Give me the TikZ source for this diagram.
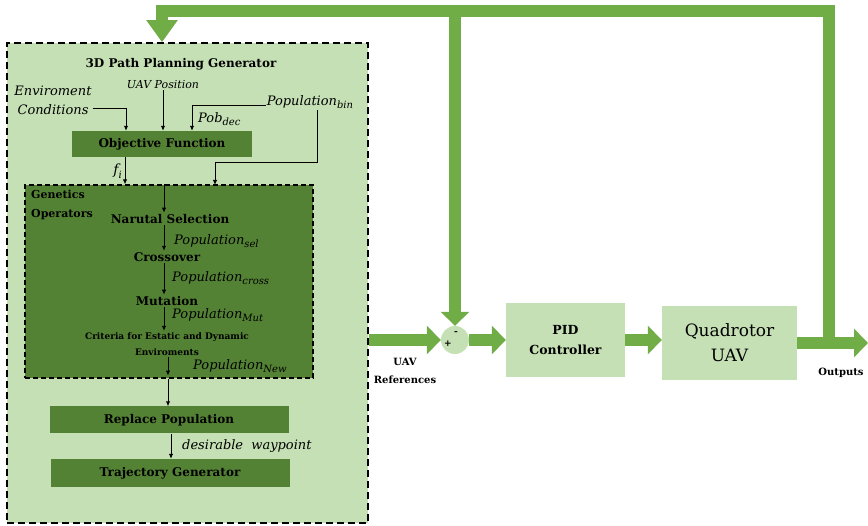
\documentclass[tikz,border=0pt]{standalone}
\usepackage{fontspec}
\setmainfont{DejaVu Serif}
\usepackage{tikz}
\usetikzlibrary{arrows.meta,positioning,calc}
\usepackage{xcolor}
\definecolor{lightgrn}{HTML}{C5E0B4}
\definecolor{darkgrn}{HTML}{548235}
\definecolor{flowgrn}{HTML}{70AD47}
\newcommand{\lsub}[1]{\raisebox{-0.5ex}{\fontsize{10}{10}\selectfont\itshape #1}}

\begin{document}
\begin{tikzpicture}[x=1pt, y=-1pt,
    genbox/.style={draw, dash pattern=on 7pt off 4pt, line width=1.6pt,
                   fill=lightgrn, minimum width=361pt, minimum height=480pt},
    opsbox/.style={draw, dash pattern=on 5pt off 3pt, line width=1.2pt,
                   fill=darkgrn, minimum width=288pt, minimum height=193pt},
    darkbox/.style={fill=darkgrn, inner sep=0pt,
                    font=\bfseries\fontsize{12}{13}\selectfont},
    ctrlbox/.style={fill=lightgrn, inner sep=0pt, align=center},
    oplbl/.style={inner sep=1.5pt, font=\bfseries\fontsize{12}{14}\selectfont},
    varlbl/.style={inner sep=1pt, font=\itshape\fontsize{13}{19}\selectfont},
    arr/.style={-{Latex[length=5pt,width=4.5pt]}, line width=1pt},
    flow/.style={-{Triangle[width=28pt,length=14pt]}, draw=flowgrn,
                 line width=12pt, line join=miter},
    labl/.style={font=\bfseries\fontsize{10}{18}\selectfont, align=center}
  ]
  \useasboundingbox (0,0) rectangle (868,526);

  %% --- Path planning generator (left) ---
  \node[genbox] (gen) at (187.5,283) {};
  \node[oplbl] (title) at (181,64) {3D Path Planning Generator};
  % Inputs
  \node[varlbl, align=center] (env) at (53,100) {Enviroment\\Conditions};
  \node[varlbl, font=\itshape\fontsize{11}{13}\selectfont] (pos) at (163,85) {UAV Position};
  \node[varlbl] (popbin) at (310,102) {Population\lsub{bin}};
  \node[varlbl, anchor=west] (pobdec) at (197,119) {Pob\lsub{dec}};
  % Objective function
  \node[darkbox, minimum width=180pt, minimum height=26pt] (obj) at (162,144) {Objective Function};
  \coordinate (envdrop) at (126,109);
  \coordinate (decdrop) at (192,106);
  \coordinate (bintap)  at (317,0);
  \coordinate (binbend) at (215,163);
  \coordinate (fitap)   at (125,0);
  \draw[arr] ([yshift=-9pt]env.east) -| (envdrop |- obj.north);
  \draw[arr] (pos) -- (pos |- obj.north);
  \draw[arr] (popbin.west |- decdrop) -| (decdrop |- obj.north);
  \draw[arr] (popbin.south -| bintap) |- (binbend) -- (binbend |- 0,185);

  %% --- Genetic operators ---
  \node[opsbox] (ops) at (169,281.5) {};
  \draw[arr] (obj.south -| fitap) -- (ops.north -| fitap);
  \node[varlbl, anchor=east, font=\itshape\fontsize{14}{16}\selectfont] (fi) at (123,171) {f\lsub{i}};
  \node[align=left, anchor=north west, inner sep=0pt,
        font=\bfseries\fontsize{11}{19}\selectfont] (opslbl) at (31,190) {Genetics\\Operators};
  \node[oplbl] (sel)   at (170,219) {Narutal Selection};
  \node[oplbl] (cross) at (167,257) {Crossover};
  \node[oplbl] (mut)   at (167,301) {Mutation};
  \node[oplbl, align=center, font=\bfseries\fontsize{9}{16}\selectfont] (crit) at (167,344)
        {Criteria for Estatic and Dynamic\\Enviroments};
  \coordinate (spine)  at (164,0);
  \coordinate (spineb) at (168,0);
  \coordinate (spinec) at (171,0);
  \draw[arr] (ops.north -| spine) -- (sel.north -| spine);
  \draw[arr] (sel.south -| spine) -- (cross.north -| spine);
  \draw[arr] (cross.south -| spine) -- (mut.north -| spine);
  \draw[arr] (mut.south -| spine) -- (crit.north -| spine);
  \draw[arr] (crit.south -| spineb) -- ([yshift=3pt]ops.south -| spineb);
  \node[varlbl, anchor=west] (psel)   at (173,241) {Population\lsub{sel}};
  \node[varlbl, anchor=west] (pcross) at (171,278) {Population\lsub{cross}};
  \node[varlbl, anchor=west] (pmut)   at (171,315) {Population\lsub{Mut}};
  \node[varlbl, anchor=west] (pnew)   at (192,366) {Population\lsub{New}};

  %% --- Replace and trajectory ---
  \node[darkbox, minimum width=239pt, minimum height=27pt] (rep)  at (169,420) {Replace Population};
  \node[darkbox, minimum width=239pt, minimum height=28pt] (traj) at (170,473) {Trajectory Generator};
  \draw[arr] (ops.south -| spineb) -- (rep.north -| spineb);
  \draw[arr] (rep.south -| spinec) -- (traj.north -| spinec);
  \node[varlbl, anchor=west] (wayp) at (181,446) {desirable\ \ waypoint};

  %% --- Control loop (right) ---
  \node[circle, fill=lightgrn, minimum size=28pt, inner sep=0pt] (sum) at (455,340) {};
  \node[font=\bfseries\fontsize{9}{10}\selectfont, inner sep=0pt] (plus)  at (448,344) {+};
  \node[font=\bfseries\fontsize{9}{10}\selectfont, inner sep=0pt] (minus) at (456,333) {-};
  \node[ctrlbox, minimum width=119pt, minimum height=74pt,
        font=\bfseries\fontsize{12.5}{20}\selectfont] (pid) at (565.5,340) {PID\\Controller};
  \node[ctrlbox, minimum width=135pt, minimum height=74pt,
        font=\fontsize{17}{25}\selectfont] (quad) at (729.5,343) {Quadrotor\\UAV};
  \coordinate (outend)  at (868,343);
  \coordinate (outtap)  at (829,343);
  \coordinate (topleft) at (162,11);
  \coordinate (topmid)  at (455,11);
  % Forward path
  \draw[flow] (gen.east |- sum) -- (sum);
  \draw[flow] (sum) -- (pid);
  \draw[flow] (pid.east) -- (pid.east -| quad.west);
  \draw[flow] (quad) -- (outend);
  % Feedback
  \draw[flow, -{Triangle[width=30pt,length=22pt]}] (outtap) |- (topleft) -- (topleft |- gen.north);
  \draw[flow] (topmid) -- (sum);
  \node[labl] (refs) at (405,371) {UAV\\References};
  \node[labl] (outs) at (841,373) {Outputs};
\end{tikzpicture}
\end{document}
